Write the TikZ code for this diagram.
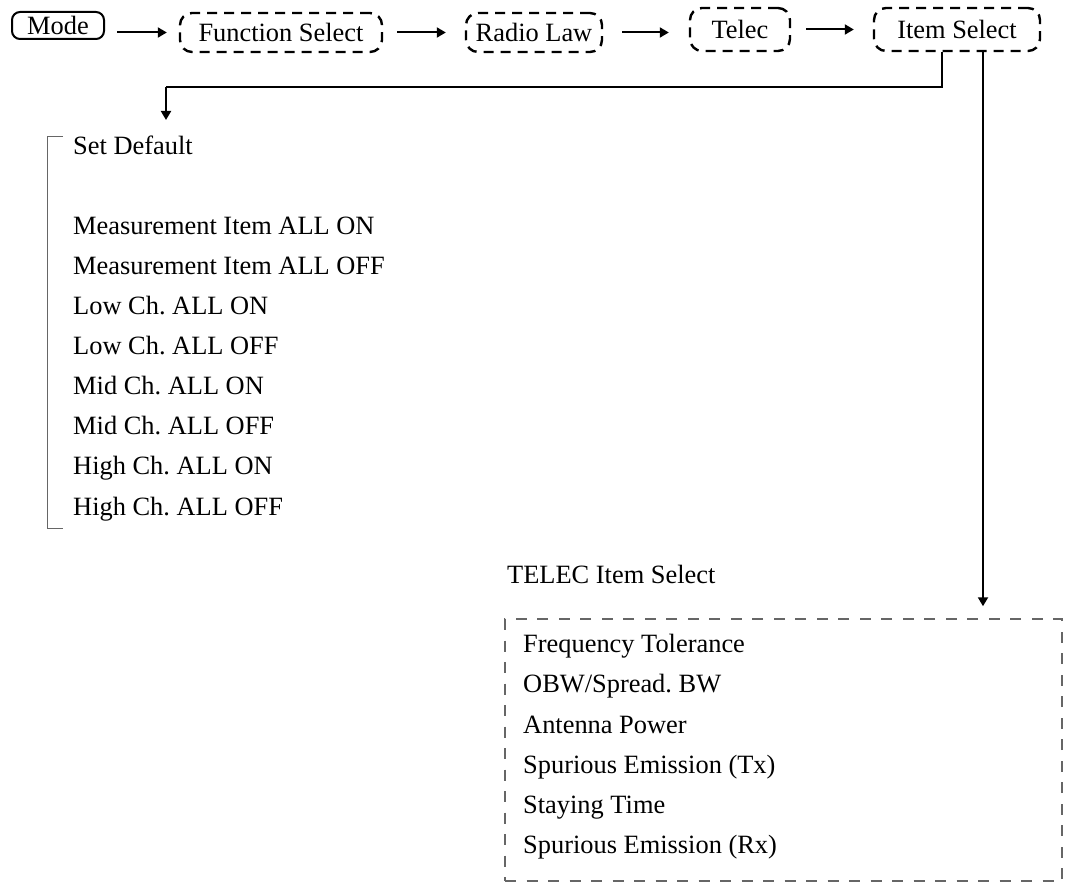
\documentclass[tikz,border=0pt]{standalone}
\usepackage{fontspec}
\setmainfont{Liberation Serif}
\usetikzlibrary{arrows.meta}
\frenchspacing
\begin{document}
\begin{tikzpicture}[x=1pt,y=-1pt,
  every node/.style={font=\fontsize{26.4pt}{30pt}\selectfont, inner sep=0pt},
  solidbox/.style={draw, line width=2pt, rounded corners=8pt},
  dbox/.style={draw, line width=2.4pt, rounded corners=12pt, dash pattern=on 10pt off 7pt},
  tbox/.style={draw=black!60, line width=1.5pt, dash pattern=on 11pt off 10.5pt},
  arr/.style={line width=2pt, -{Triangle[length=9pt,width=10pt]}},
  brk/.style={draw=black!60, line width=1pt},
  item/.style={anchor=base west}
]
\useasboundingbox (0,0) rectangle (1066,882);

% top row
\node[solidbox, minimum width=92pt, minimum height=27pt] (mode) at (58,25.5) {Mode};
\node[dbox, minimum width=202pt, minimum height=39pt] (fs) at (281,32.5) {Function Select};
\node[dbox, minimum width=136pt, minimum height=39pt] (rl) at (534,32.5) {Radio Law};
\node[dbox, minimum width=100pt, minimum height=43pt] (telec) at (740,29.5) {Telec};
\node[dbox, minimum width=166pt, minimum height=43pt] (is) at (957,29.5) {Item Select};

\draw[arr] ([xshift=12pt]mode.east |- fs.west) -- ([xshift=-12pt]fs.west);
\draw[arr] ([xshift=14pt]fs.east) -- ([xshift=-19pt]rl.west);
\draw[arr] ([xshift=19pt]rl.east) -- ([xshift=-20pt]telec.west |- rl.east);
\draw[arr] ([xshift=15pt]telec.east) -- ([xshift=-19pt]is.west);

% left list
\node[item] (l0) at (73,155) {Set Default};
\node[item] (l1) at (73,235) {Measurement Item ALL ON};
\node[item] (l2) at (73,275) {Measurement Item ALL OFF};
\node[item] (l3) at (73,315) {Low Ch. ALL ON};
\node[item] (l4) at (73,355) {Low Ch. ALL OFF};
\node[item] (l5) at (73,395) {Mid Ch. ALL ON};
\node[item] (l6) at (73,435) {Mid Ch. ALL OFF};
\node[item] (l7) at (73,475) {High Ch. ALL ON};
\node[item] (l8) at (73,515) {High Ch. ALL OFF};
\draw[brk] (63,137) -- (47,137) -- (47,528) -- (63,528);

\coordinate (bend) at (166,87);
\coordinate (listin) at (166,120);
\draw[line width=2pt] ([xshift=-15pt]is.south) |- (bend);
\draw[arr] (bend) -- (listin);

% TELEC box
\node[item] (tl) at (507,583) {TELEC Item Select};
\node[tbox, minimum width=557pt, minimum height=262pt] (tb) at (783.5,750) {};
\node[item] (t1) at (523,652) {Frequency Tolerance};
\node[item] (t2) at (523,692) {OBW/Spread. BW};
\node[item] (t3) at (523,733) {Antenna Power};
\node[item] (t4) at (523,773) {Spurious Emission (Tx)};
\node[item] (t5) at (523,813) {Staying Time};
\node[item] (t6) at (523,853) {Spurious Emission (Rx)};

\coordinate (tin) at ([yshift=12pt]tb.north);
\draw[arr] ([xshift=26pt]is.south) -- ([xshift=26pt]is.south |- tin);
\end{tikzpicture}
\end{document}
